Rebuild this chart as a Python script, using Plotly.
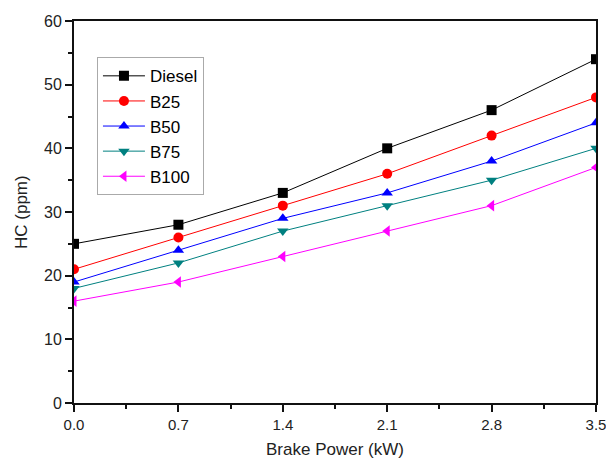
import plotly.graph_objects as go

power = [0.0, 0.7, 1.4, 2.1, 2.8, 3.5]
power_labels = ["0.0", "0.7", "1.4", "2.1", "2.8", "3.5"]
diesel = [25, 28, 33, 40, 46, 54]
b25 = [21, 26, 31, 36, 42, 48]
b50 = [19, 24, 29, 33, 38, 44]
b75 = [18, 22, 27, 31, 35, 40]
b100 = [16, 19, 23, 27, 31, 37]

series = [
    ("Diesel", diesel, "#000000", "square"),
    ("B25", b25, "#ff0000", "circle"),
    ("B50", b50, "#0000ff", "triangle-up"),
    ("B75", b75, "#008080", "triangle-down"),
    ("B100", b100, "#ff00ff", "triangle-left"),
]

fig = go.Figure()
for name, ys, col, sym in series:
    fig.add_trace(go.Scatter(
        x=power, y=ys, mode="lines+markers", name=name,
        line=dict(color=col, width=1),
        marker=dict(symbol=sym, size=10, color=col),
        cliponaxis=True,
    ))

axis_common = dict(
    showline=True, linecolor="#111", linewidth=2, mirror=True,
    ticks="outside", ticklen=7, tickwidth=1.5, tickcolor="#111",
    showgrid=False, zeroline=False, automargin=False,
)

fig.update_xaxes(
    range=[0, 3.5], tickvals=power, ticktext=power_labels,
    minor=dict(dtick=0.35, tick0=0, ticks="outside", ticklen=4, tickwidth=1.5, tickcolor="#111"),
    tickfont=dict(family="Arial", size=15, color="#222"),
    **axis_common,
)
fig.update_yaxes(
    range=[0, 60], dtick=10,
    minor=dict(dtick=5, ticks="outside", ticklen=4, tickwidth=1.5, tickcolor="#111"),
    tickfont=dict(family="Arial", size=16, color="#222"),
    **axis_common,
)

# page body adds an 8px offset, so margins are shifted to line the plot area up
fig.update_layout(
    width=614, height=461,
    margin=dict(l=66, r=26, t=13, b=66),
    plot_bgcolor="white", paper_bgcolor="white",
    showlegend=True,
    legend=dict(
        x=0.044, y=0.905, xanchor="left", yanchor="top",
        bordercolor="#aaa", borderwidth=1, bgcolor="white",
        itemwidth=42,
        font=dict(family="Arial", size=17, color="black"),
    ),
    annotations=[
        dict(text="Brake Power (kW)", xref="paper", yref="paper", x=0.5, y=0,
             xanchor="center", yanchor="middle", yshift=-46, showarrow=False,
             font=dict(family="Arial", size=17, color="#222")),
        dict(text="HC (ppm)", xref="paper", yref="paper", x=0, y=0.5, textangle=-90,
             xanchor="center", yanchor="middle", xshift=-53, showarrow=False,
             font=dict(family="Arial", size=17, color="#222")),
    ],
)

fig.write_html("out.html")
